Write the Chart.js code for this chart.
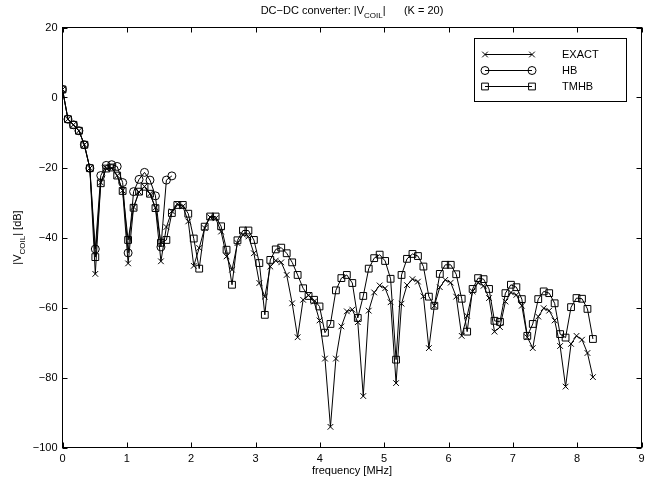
<!DOCTYPE html>
<html>
<head>
<meta charset="utf-8">
<script src="https://cdn.jsdelivr.net/npm/chart.js@4.4.0/dist/chart.umd.min.js"></script>
<style>
  html, body { margin: 0; padding: 0; background: #fff; }
</style>
</head>
<body>
<canvas id="chart" width="656" height="483"></canvas>
<script>
// harmonic spacing (MHz); point k sits at k * F0
const F0 = 0.085;

const exact = [
  2.3, -6.2, -7.8, -9.5, -13.5, -20.2, -50.4, -24.3, -20.2, -20.2,
  -22.3, -26.6, -47.4, -31.3, -27.0, -25.4, -27.5, -31.5, -46.8, -37.0,
  -32.5, -30.4, -31.1, -35.4, -48.1, -43.0, -37.3, -34.2, -34.5, -38.3,
  -45.4, -49.2, -41.6, -39.2, -39.7, -44.5, -53.0, -56.9, -48.3, -46.6,
  -47.1, -50.7, -58.8, -68.5, -57.8, -56.5, -58.3, -63.7, -74.6, -94.1,
  -74.6, -65.4, -61.1, -60.6, -64.2, -85.3, -60.9, -55.7, -53.7, -54.5,
  -58.5, -81.6, -58.9, -53.6, -51.9, -52.6, -56.8, -71.6, -59.5, -54.2,
  -52.1, -52.9, -56.9, -68.1, -62.4, -55.4, -52.9, -53.8, -57.3, -66.9,
  -65.6, -58.3, -55.7, -56.4, -59.5, -68.5, -71.6, -62.6, -60.2, -60.9,
  -63.7, -71.0, -82.6, -70.4, -68.1, -69.2, -73.0, -79.9
];

const hb = [
  2.3, -6.2, -7.8, -9.5, -13.5, -20.2, -43.3, -22.3, -19.4, -19.2,
  -19.7, -24.3, -44.4, -26.9, -23.4, -21.4, -23.6, -28.1, -42.7, -23.6,
  -22.4
];

const tmhb = [
  2.3, -6.2, -7.8, -9.5, -13.5, -20.2, -45.6, -24.5, -20.3, -20.0,
  -22.3, -26.7, -40.7, -31.5, -26.9, -25.5, -27.5, -31.6, -41.5, -40.7,
  -33.0, -30.7, -30.7, -33.2, -40.3, -48.9, -36.9, -34.0, -34.0, -36.8,
  -43.5, -53.5, -40.8, -38.0, -38.0, -40.7, -47.3, -62.1, -46.4, -43.4,
  -42.9, -44.5, -47.1, -50.7, -54.5, -56.7, -57.8, -59.7, -67.2, -64.7,
  -55.1, -51.6, -50.7, -53.0, -63.0, -56.7, -48.9, -45.9, -44.9, -46.7,
  -51.8, -74.9, -50.7, -46.1, -44.7, -45.3, -48.3, -56.9, -59.5, -50.4,
  -47.8, -47.8, -50.5, -57.5, -66.9, -54.7, -51.6, -51.9, -54.7, -63.8,
  -64.1, -55.9, -53.5, -54.2, -57.6, -68.1, -64.7, -57.6, -55.4, -55.9,
  -58.8, -67.6, -68.6, -59.9, -57.3, -57.5, -60.4, -69.0
];

const xTicks = [0, 1, 2, 3, 4, 5, 6, 7, 8, 9];
const yTicks = [20, 0, -20, -40, -60, -80, -100];

const FONT = 'Liberation Sans, Arial, Helvetica, sans-serif';
const toXY = arr => arr.map((y, k) => ({ x: k * F0, y }));
const minus = v => String(v).replace('-', '\u2212');

function series(label, values, style, radius) {
  return {
    label,
    data: toXY(values),
    borderColor: '#000',
    borderWidth: 1,
    pointStyle: style,
    pointRadius: radius,
    pointBorderWidth: 1,
    pointBorderColor: '#000',
    pointBackgroundColor: 'rgba(0,0,0,0)',
    fill: false,
    tension: 0
  };
}

// text with a subscript part, e.g. V_COIL
function drawRich(ctx, parts, x, y, size) {
  const widths = parts.map(p => {
    ctx.font = (p.sub ? size - 3 : size) + 'px ' + FONT;
    return ctx.measureText(p.t).width;
  });
  let cx = x - widths.reduce((a, b) => a + b, 0) / 2;
  parts.forEach((p, i) => {
    ctx.font = (p.sub ? size - 3 : size) + 'px ' + FONT;
    ctx.fillText(p.t, cx, p.sub ? y + 3.5 : y);
    cx += widths[i];
  });
}

const frame = {
  id: 'frame',
  afterDraw(chart) {
    const { ctx, chartArea: a, scales } = chart;
    ctx.save();
    ctx.strokeStyle = '#000';
    ctx.fillStyle = '#000';
    ctx.lineWidth = 1;

    // box + inward ticks on all four sides
    ctx.strokeRect(a.left, a.top, a.right - a.left, a.bottom - a.top);
    ctx.beginPath();
    xTicks.forEach(v => {
      const px = Math.round(scales.x.getPixelForValue(v)) + 0.5;
      ctx.moveTo(px, a.bottom); ctx.lineTo(px, a.bottom - 5);
      ctx.moveTo(px, a.top); ctx.lineTo(px, a.top + 5);
    });
    yTicks.forEach(v => {
      const py = Math.round(scales.y.getPixelForValue(v)) + 0.5;
      ctx.moveTo(a.left, py); ctx.lineTo(a.left + 5, py);
      ctx.moveTo(a.right, py); ctx.lineTo(a.right - 5, py);
    });
    ctx.stroke();

    // titles
    ctx.textBaseline = 'alphabetic';
    ctx.textAlign = 'left';
    const midX = (a.left + a.right) / 2;
    drawRich(ctx, [{ t: 'DC\u2212DC converter: |V' }, { t: 'COIL', sub: true }, { t: '|      (K = 20)' }], midX, 14, 11);

    ctx.font = '11px ' + FONT;
    ctx.textAlign = 'center';
    ctx.fillText('frequency [MHz]', midX, 474);

    ctx.save();
    ctx.translate(21, (a.top + a.bottom) / 2);
    ctx.rotate(-Math.PI / 2);
    ctx.textAlign = 'left';
    drawRich(ctx, [{ t: '|V' }, { t: 'COIL', sub: true }, { t: '| [dB]' }], 0, 0, 11);
    ctx.restore();

    // legend
    const lx = 474.5, ly = 38.5, lw = 152, lh = 63;
    ctx.fillStyle = '#fff';
    ctx.fillRect(lx, ly, lw, lh);
    ctx.strokeRect(lx, ly, lw, lh);
    const rows = [54, 70, 86];
    chart.data.datasets.forEach((ds, i) => {
      const y = rows[i] + 0.5;
      ctx.strokeStyle = '#000';
      ctx.fillStyle = 'rgba(0,0,0,0)';
      ctx.beginPath();
      ctx.moveTo(485, y); ctx.lineTo(532, y);
      ctx.stroke();
      [485, 532].forEach(px => {
        Chart.helpers.drawPoint(ctx, {
          pointStyle: ds.pointStyle, radius: ds.pointRadius, rotation: 0, borderWidth: 1
        }, px, y);
      });
      ctx.fillStyle = '#000';
      ctx.font = '11px ' + FONT;
      ctx.textAlign = 'left';
      ctx.textBaseline = 'middle';
      ctx.fillText(ds.label, 562, y);
    });
    ctx.restore();
  }
};

new Chart(document.getElementById('chart'), {
  type: 'line',
  data: {
    datasets: [
      series('EXACT', exact, 'crossRot', 4),
      series('HB', hb, 'circle', 4),
      series('TMHB', tmhb, 'rect', 4.8)
    ]
  },
  options: {
    responsive: false,
    animation: false,
    layout: { padding: { top: 27.5, right: 14.5, left: 0, bottom: 0 } },
    plugins: { legend: { display: false }, tooltip: { enabled: false }, title: { display: false } },
    scales: {
      x: {
        type: 'linear', min: 0, max: 9,
        afterFit(s) { s.height = 35.5; },
        afterBuildTicks(s) { s.ticks = xTicks.map(v => ({ value: v })); },
        grid: { display: false, drawTicks: false },
        border: { display: false },
        ticks: { padding: 5, color: '#000', maxRotation: 0, autoSkip: false,
                 font: { family: FONT, size: 11 }, callback: v => minus(v) }
      },
      y: {
        type: 'linear', min: -100, max: 20,
        afterFit(s) { s.width = 62.5; },
        afterBuildTicks(s) { s.ticks = yTicks.map(v => ({ value: v })); },
        grid: { display: false, drawTicks: false },
        border: { display: false },
        ticks: { padding: 5, color: '#000', font: { family: FONT, size: 11 }, callback: v => minus(v) }
      }
    }
  },
  plugins: [frame]
});
</script>
</body>
</html>
